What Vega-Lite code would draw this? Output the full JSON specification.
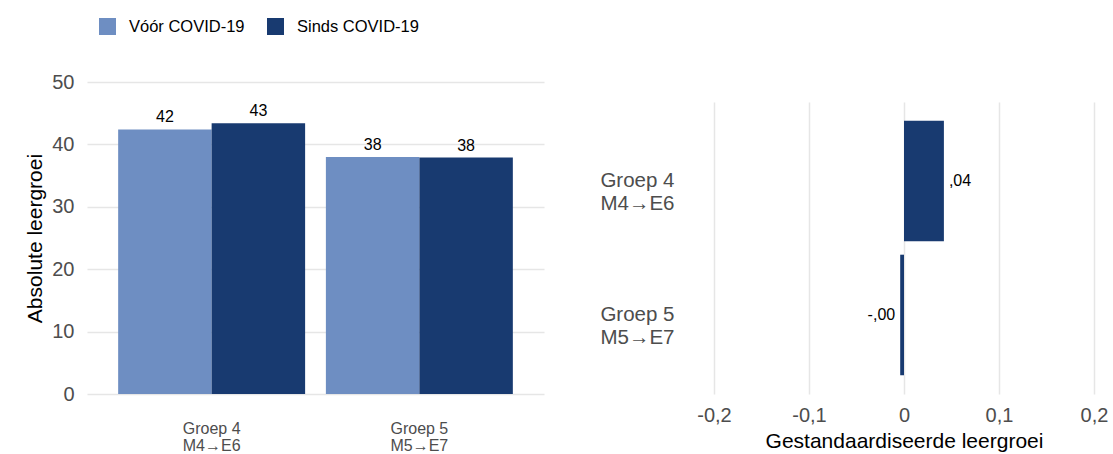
{
  "$schema": "https://vega.github.io/schema/vega-lite/v6.json",
  "padding": {"left": 24, "top": 18, "right": 0, "bottom": 0},
  "bounds": "flush",
  "spacing": 151,
  "config": {
    "font": "Liberation Sans",
    "view": {"stroke": null},
    "axis": {"gridColor": "#e6e6e6", "gridWidth": 1.5, "domain": false, "ticks": false, "tickSize": 0}
  },
  "datasets": {
    "abs": [
      {"groep": "Groep 4|M4→E6", "periode": "Vóór COVID-19", "waarde": 42.4, "label": "42"},
      {"groep": "Groep 4|M4→E6", "periode": "Sinds COVID-19", "waarde": 43.4, "label": "43"},
      {"groep": "Groep 5|M5→E7", "periode": "Vóór COVID-19", "waarde": 38.0, "label": "38"},
      {"groep": "Groep 5|M5→E7", "periode": "Sinds COVID-19", "waarde": 37.9, "label": "38"}
    ],
    "std": [
      {"groep": "Groep 4|M4→E6", "waarde": 0.042, "label": ",04"},
      {"groep": "Groep 5|M5→E7", "waarde": -0.004, "label": "-,00"}
    ]
  },
  "hconcat": [
    {
      "width": 457,
      "height": 312,
      "data": {"name": "abs"},
      "encoding": {
        "x": {
          "field": "groep", "type": "nominal",
          "scale": {"paddingInner": 0.1, "paddingOuter": 0.15},
          "axis": {"title": null, "labelAngle": 0, "labelExpr": "split(datum.label, '|')", "labelFontSize": 16, "labelColor": "#4d4d4d", "labelPadding": 26, "labelLineHeight": 17}
        },
        "xOffset": {"field": "periode", "type": "nominal", "scale": {"domain": ["Vóór COVID-19", "Sinds COVID-19"]}},
        "y": {
          "field": "waarde", "type": "quantitative",
          "scale": {"domain": [0, 50], "nice": false},
          "axis": {"title": "Absolute leergroei", "values": [0, 10, 20, 30, 40, 50], "grid": true, "labelFontSize": 20, "labelColor": "#4d4d4d", "labelPadding": 13, "titleFontSize": 21, "titleFontWeight": "normal", "titleColor": "#000000", "titlePadding": 6}
        }
      },
      "layer": [
        {
          "mark": {"type": "bar"},
          "encoding": {
            "color": {
              "field": "periode", "type": "nominal",
              "scale": {"domain": ["Vóór COVID-19", "Sinds COVID-19"], "range": ["#6E8EC2", "#183A70"]},
              "legend": {"title": null, "orient": "none", "legendX": 12, "legendY": -64, "direction": "horizontal", "symbolType": "square", "symbolSize": 289, "symbolStrokeWidth": 0, "symbolOpacity": 1, "labelFontSize": 16.5, "labelColor": "#000000", "labelOffset": 13, "columnPadding": 22}
            }
          }
        },
        {
          "mark": {"type": "text", "baseline": "bottom", "dy": -4, "fontSize": 16, "color": "#000000"},
          "encoding": {"text": {"field": "label"}}
        }
      ]
    },
    {
      "bounds": "flush",
      "spacing": 0,
      "vconcat": [
        {
          "width": 418,
          "height": 20,
          "data": {"values": []},
          "mark": {"type": "text"},
          "encoding": {}
        },
        {
          "width": 418,
          "height": 292,
          "data": {"name": "std"},
          "encoding": {
            "y": {
              "field": "groep", "type": "nominal",
              "scale": {"paddingInner": 0.1, "paddingOuter": 0.14},
              "axis": {"title": null, "labelExpr": "split(datum.label, '|')", "labelFontSize": 20.5, "labelColor": "#4d4d4d", "labelLineHeight": 23, "labelPadding": 21, "labelAlign": "right"}
            },
            "x": {
              "field": "waarde", "type": "quantitative",
              "scale": {"domain": [-0.22, 0.22], "nice": false},
              "axis": {"title": "Gestandaardiseerde leergroei", "values": [-0.2, -0.1, 0, 0.1, 0.2], "grid": true, "labelExpr": "datum.value == 0 ? '0' : (datum.value < 0 ? '-0,' : '0,') + format(abs(datum.value) * 10, '.0f')", "labelFontSize": 20, "labelColor": "#4d4d4d", "labelPadding": 11, "titleFontSize": 21, "titleFontWeight": "normal", "titleColor": "#000000", "titlePadding": 5}
            }
          },
          "layer": [
            {"mark": {"type": "bar", "color": "#183A70"}},
            {
              "transform": [{"filter": "datum.waarde >= 0"}],
              "mark": {"type": "text", "align": "left", "baseline": "middle", "dx": 5, "fontSize": 16, "color": "#000000"},
              "encoding": {"text": {"field": "label"}}
            },
            {
              "transform": [{"filter": "datum.waarde < 0"}],
              "mark": {"type": "text", "align": "right", "baseline": "middle", "dx": -5, "fontSize": 16, "color": "#000000"},
              "encoding": {"text": {"field": "label"}}
            }
          ]
        }
      ]
    }
  ]
}
